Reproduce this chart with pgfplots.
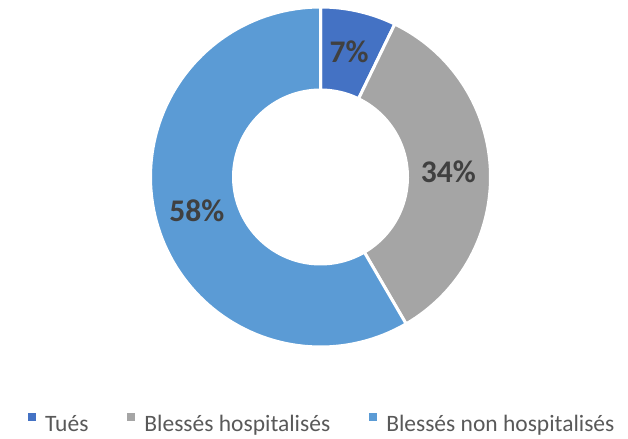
\documentclass[border=0pt]{standalone}
\usepackage{pgfplots}
\pgfplotsset{compat=1.18}
\usepackage{pgfplotstable}
\usepackage{fontspec}
\setmainfont{Carlito}
\definecolor{cTues}{HTML}{4472C4}
\definecolor{cHosp}{HTML}{A5A5A5}
\definecolor{cNon}{HTML}{5B9BD5}
\definecolor{labtext}{HTML}{404040}
\definecolor{legtext}{HTML}{595959}

\pgfplotstableread{
label value
Tues 7.2
Hosp 34.4
NonHosp 58.4
}\donutdata

\pgfplotstablegetelem{0}{value}\of\donutdata \let\vA\pgfplotsretval
\pgfplotstablegetelem{1}{value}\of\donutdata \let\vB\pgfplotsretval
\pgfplotstablegetelem{2}{value}\of\donutdata \let\vC\pgfplotsretval

% geometry (pixel units, y downwards)
\def\cx{320.5}
\def\cy{177}
\def\Ro{170}
\def\Ri{87}
\def\Rl{128}

\pgfmathsetmacro\aA{0}
\pgfmathsetmacro\bA{3.6*\vA}
\pgfmathsetmacro\aB{\bA}
\pgfmathsetmacro\bB{\bA+3.6*\vB}
\pgfmathsetmacro\aC{\bB}
\pgfmathsetmacro\bC{\bB+3.6*\vC}

\pgfmathsetmacro\mA{(\aA+\bA)/2}
\pgfmathsetmacro\mB{(\aB+\bB)/2}
\pgfmathsetmacro\mC{(\aC+\bC)/2}
\pgfmathsetmacro\xA{\cx+\Rl*sin(\mA)}
\pgfmathsetmacro\yA{\cy-\Rl*cos(\mA)}
\pgfmathsetmacro\xB{\cx+\Rl*sin(\mB)}
\pgfmathsetmacro\yB{\cy-\Rl*cos(\mB)}
\pgfmathsetmacro\xC{\cx+\Rl*sin(\mC)}
\pgfmathsetmacro\yC{\cy-\Rl*cos(\mC)}

\newcommand\donutslice[3]{%
  \addplot[fill=#1, draw=white, line width=3bp, line join=round,
    domain=0:202, samples=203, variable=\t]
  ({\cx + (((\t<100.5) || (\t>201.5)) ? \Ro : \Ri)*sin(((\t<100.5) ? (#2+(#3-#2)*\t/100) : ((\t>201.5) ? #2 : (#3-(#3-#2)*(\t-101)/100))))},
   {\cy - (((\t<100.5) || (\t>201.5)) ? \Ro : \Ri)*cos(((\t<100.5) ? (#2+(#3-#2)*\t/100) : ((\t>201.5) ? #2 : (#3-(#3-#2)*(\t-101)/100))))});
}

\begin{document}
\begin{tikzpicture}
\begin{axis}[
  scale only axis, width=628bp, height=439bp,
  xmin=0, xmax=628, ymin=0, ymax=439, y dir=reverse,
  hide axis, clip=false,
  legend style={at={(0.0446,0.036)}, anchor=west, draw=none, fill=none,
    legend columns=3, font=\fontsize{23.5bp}{28bp}\selectfont, text=legtext,
    /tikz/every odd column/.append style={column sep=9bp},
    /tikz/every even column/.append style={column sep=39bp},
    inner sep=0pt, nodes={inner sep=0pt}},
  legend image code/.code={\fill[#1, draw=none] (0bp,3.5bp) rectangle (8bp,11.5bp);},
]
\coordinate (bl) at (rel axis cs:0,0);
\coordinate (tr) at (rel axis cs:1,1);
\donutslice{cTues}{\aA}{\bA}
\donutslice{cHosp}{\aB}{\bB}
\donutslice{cNon}{\aC}{\bC}
\legend{Tués, Blessés hospitalisés, Blessés non hospitalisés}
\begin{scope}[every node/.style={text=labtext, font=\fontsize{31.5bp}{31.5bp}\selectfont\bfseries}]
\node at (axis cs:\xA,\yA) {7\%};
\node at (axis cs:\xB,\yB) {34\%};
\node at (axis cs:\xC,\yC) {58\%};
\end{scope}
\end{axis}
\pgfresetboundingbox
\path (bl) rectangle (tr);
\end{tikzpicture}
\end{document}
